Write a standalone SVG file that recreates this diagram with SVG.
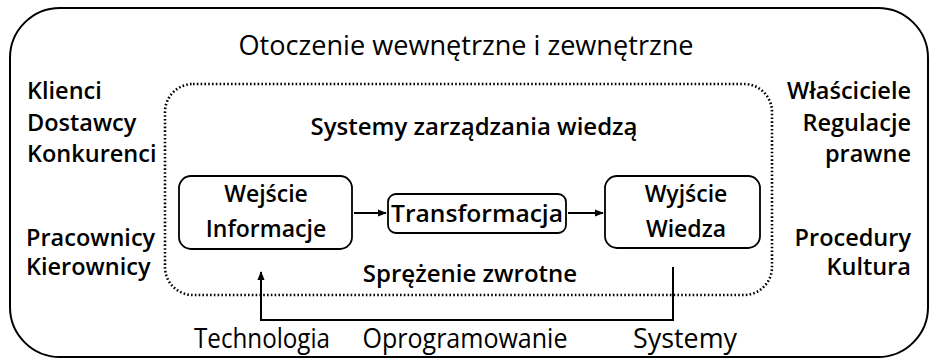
<svg xmlns="http://www.w3.org/2000/svg" width="933" height="364" viewBox="0 0 933 364">
  <defs>
    <marker id="arrow" viewBox="0 0 10 10" refX="9" refY="5" markerWidth="9" markerHeight="9" markerUnits="userSpaceOnUse" orient="auto">
      <path d="M0,1 L10,5 L0,9 z" fill="#000"/>
    </marker>
    <style>
      .frame { fill: none; stroke: #000; stroke-width: 2; }
      .dotted { fill: none; stroke: #000; stroke-width: 2.6; stroke-dasharray: 1.6 2.2; }
      .box { fill: none; stroke: #000; stroke-width: 1.8; }
      .edge { fill: none; stroke: #000; stroke-width: 2; }
      .semi { font-family: "Open Sans", "Liberation Sans", sans-serif; font-weight: 600; font-size: 24px; fill: #000; }
      .side { font-size: 23.5px; }
      .inbox { font-size: 23px; }
      .reg { font-family: "Open Sans", "Liberation Sans", sans-serif; font-weight: 400; font-size: 27px; fill: #000; }
      .mid { text-anchor: middle; }
      .end { text-anchor: end; }
    </style>
  </defs>

  <rect width="933" height="364" fill="#fff"/>

  <!-- outer environment frame -->
  <g id="environment">
    <rect class="frame" x="10" y="8" width="918" height="349" rx="50" ry="50"/>
    <text class="reg mid" x="466" y="55" textLength="455" lengthAdjust="spacingAndGlyphs">Otoczenie wewnętrzne i zewnętrzne</text>
  </g>

  <!-- external factors, left -->
  <g id="left-factors">
    <text class="semi side" x="27" y="99">Klienci</text>
    <text class="semi side" x="27" y="131">Dostawcy</text>
    <text class="semi side" x="27" y="162">Konkurenci</text>
    <text class="semi side" x="26" y="246">Pracownicy</text>
    <text class="semi side" x="26" y="275">Kierownicy</text>
  </g>

  <!-- external factors, right -->
  <g id="right-factors">
    <text class="semi side end" x="911" y="99">Właściciele</text>
    <text class="semi side end" x="911" y="131">Regulacje</text>
    <text class="semi side end" x="911" y="162">prawne</text>
    <text class="semi side end" x="911" y="246">Procedury</text>
    <text class="semi side end" x="911" y="275">Kultura</text>
  </g>

  <!-- knowledge management system boundary -->
  <g id="kms">
    <rect class="dotted" x="165" y="84" width="607" height="211" rx="28" ry="28"/>
    <text class="semi mid" x="474" y="135">Systemy zarządzania wiedzą</text>
    <text class="semi mid" x="470" y="282">Sprężenie zwrotne</text>
  </g>

  <g id="input">
    <rect class="box" x="179" y="176" width="173" height="73" rx="12" ry="12"/>
    <text class="semi inbox mid" x="266" y="202">Wejście</text>
    <text class="semi inbox mid" x="266" y="237">Informacje</text>
  </g>

  <g id="transformation">
    <rect class="box" x="388" y="194" width="178" height="39" rx="8" ry="8"/>
    <text class="semi mid" x="477" y="222" textLength="172" lengthAdjust="spacingAndGlyphs">Transformacja</text>
  </g>

  <g id="output">
    <rect class="box" x="605" y="176" width="155" height="72" rx="12" ry="12"/>
    <text class="semi inbox mid" x="686" y="202">Wyjście</text>
    <text class="semi inbox mid" x="686" y="237">Wiedza</text>
  </g>

  <!-- connectors -->
  <g id="connectors">
    <path class="edge" d="M354,213 H386" marker-end="url(#arrow)"/>
    <path class="edge" d="M568,213 H603" marker-end="url(#arrow)"/>
    <path class="edge" d="M673,267 V320 H261 V272" marker-end="url(#arrow)"/>
  </g>

  <!-- supporting infrastructure -->
  <g id="infrastructure">
    <text class="reg mid" x="262" y="348" textLength="136" lengthAdjust="spacingAndGlyphs">Technologia</text>
    <text class="reg mid" x="465" y="348" textLength="205" lengthAdjust="spacingAndGlyphs">Oprogramowanie</text>
    <text class="reg mid" x="685" y="348" textLength="104" lengthAdjust="spacingAndGlyphs">Systemy</text>
  </g>
</svg>
